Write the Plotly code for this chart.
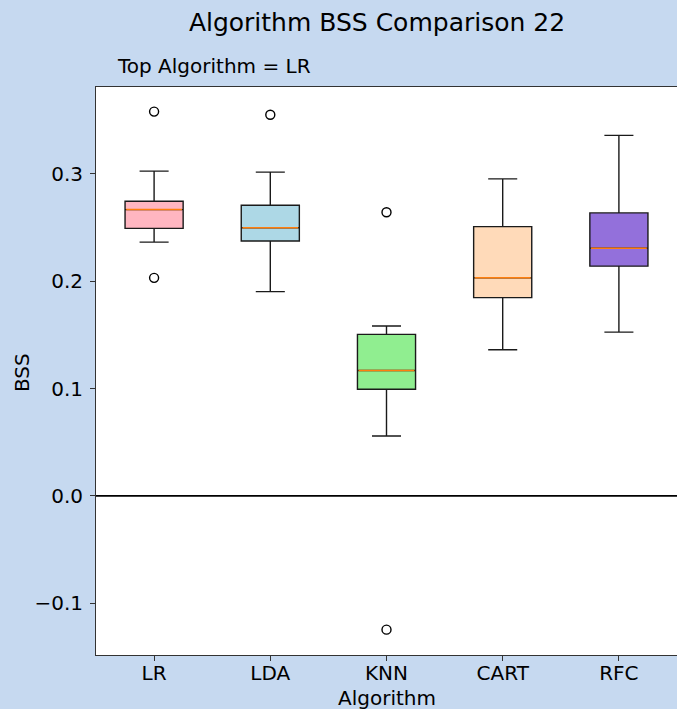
import plotly.graph_objects as go

categories = ["LR", "LDA", "KNN", "CART", "RFC"]
q1 = [0.2492, 0.2374, 0.0994, 0.1847, 0.2140]
medians = [0.2667, 0.2498, 0.1168, 0.2031, 0.2308]
q3 = [0.2745, 0.2707, 0.1505, 0.2508, 0.2636]
lower_whisk = [0.2364, 0.1903, 0.0558, 0.1361, 0.1526]
upper_whisk = [0.3025, 0.3016, 0.1583, 0.2953, 0.3358]
outliers = [[0.358, 0.2031], [0.355], [0.2642, -0.1246], [], []]
fill_colors = ["#FFB6C1", "#ADD8E6", "#90EE90", "#FFDAB9", "#9370DB"]
y_ticks = [-0.1, 0.0, 0.1, 0.2, 0.3]
y_tick_text = ["\u22120.1", "0.0", "0.1", "0.2", "0.3"]

BG = "#C6D9F0"
FONT = "DejaVu Sans"
W, H = 677, 709
ML, MR, MT, MB = 96, 0, 87, 54
PH = H - MT - MB

fig = go.Figure()
positions = list(range(1, len(categories) + 1))
bw = 0.5
for i, name in enumerate(categories):
    pos = positions[i]
    fig.add_trace(go.Box(
        x=[pos], q1=[q1[i]], median=[medians[i]], q3=[q3[i]],
        lowerfence=[lower_whisk[i]], upperfence=[upper_whisk[i]],
        width=bw, whiskerwidth=0.5, fillcolor=fill_colors[i],
        line=dict(color="#1a1a1a", width=1.4), boxpoints=False,
        showlegend=False, hoverinfo="skip",
    ))
    fig.add_trace(go.Scatter(
        x=[pos - bw / 2 + 0.01, pos + bw / 2 - 0.01], y=[medians[i], medians[i]],
        mode="lines", line=dict(color="#ff7f0e", width=1.5),
        showlegend=False, hoverinfo="skip",
    ))
    if outliers[i]:
        fig.add_trace(go.Scatter(
            x=[pos] * len(outliers[i]), y=outliers[i], mode="markers",
            marker=dict(symbol="circle-open", size=9, color="black",
                        line=dict(width=1.4, color="black")),
            showlegend=False, hoverinfo="skip",
        ))

fig.add_hline(y=0, line=dict(color="black", width=1.8))

fig.update_layout(
    width=W, height=H,
    paper_bgcolor=BG, plot_bgcolor="white",
    margin=dict(l=ML, r=MR, t=MT, b=MB),
    font=dict(family=FONT, size=20, color="black"),
    title=dict(text="Algorithm BSS Comparison 22", x=377 / W, xref="container",
               xanchor="center", y=1 - 22 / H, yref="container",
               yanchor="middle", font=dict(size=25, family=FONT)),
    xaxis=dict(
        range=[0.5, 5.5], tickvals=positions, ticktext=categories,
        ticks="outside", ticklen=5, tickcolor="#333", showgrid=False,
        zeroline=False, showline=True, linecolor="#333", linewidth=1,
        mirror=True, tickfont=dict(size=20), ticklabelstandoff=-5,
    ),
    yaxis=dict(
        range=[-0.1482, 0.3809], tickvals=y_ticks, ticktext=y_tick_text,
        ticks="outside", ticklen=5, tickcolor="#333", showgrid=False,
        zeroline=False, showline=True, linecolor="#333", linewidth=1,
        mirror=True, tickfont=dict(size=20), ticklabelstandoff=3,
    ),
    annotations=[
        dict(text="Top Algorithm = LR", x=(115 - ML) / (W - ML - MR),
             y=1 + (MT - 66) / PH, xref="x domain", yref="paper",
             xanchor="left", yanchor="middle", showarrow=False,
             font=dict(size=20, family=FONT)),
        dict(text="Algorithm", x=0.5, y=-(698 - (H - MB)) / PH,
             xref="x domain", yref="paper", xanchor="center",
             yanchor="middle", showarrow=False,
             font=dict(size=20, family=FONT)),
        dict(text="BSS", x=-(ML - 22) / (W - ML - MR), y=1 - (373 - MT) / PH,
             xref="x domain", yref="paper", xanchor="center",
             yanchor="middle", textangle=-90, showarrow=False,
             font=dict(size=20, family=FONT)),
    ],
)

fig.write_html("out.html", config={"displayModeBar": False},
               post_script="document.body.style.margin='0';document.body.style.overflow='hidden';")
